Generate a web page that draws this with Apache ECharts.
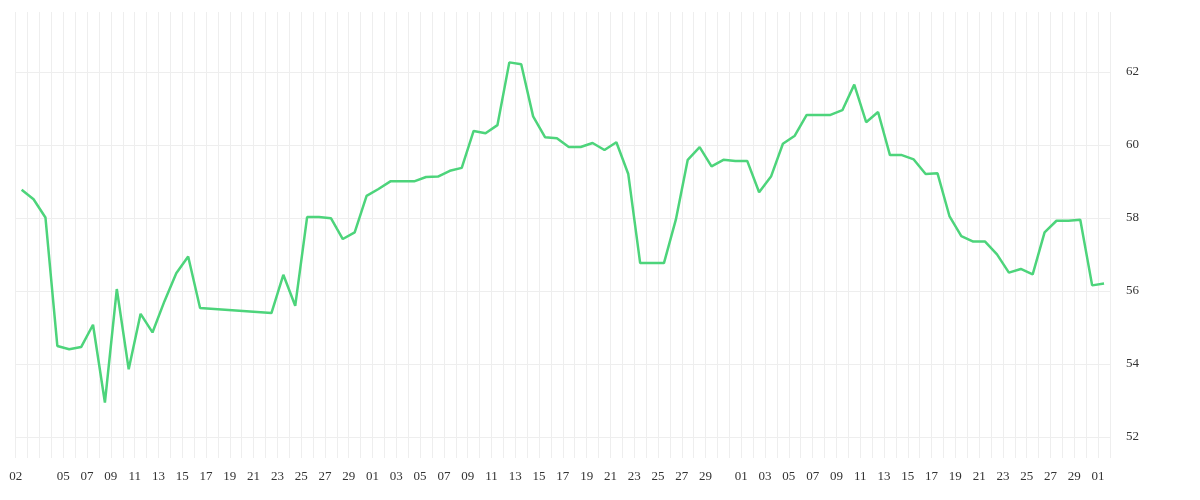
<!DOCTYPE html>
<html><head><meta charset="utf-8">
<script src="https://cdn.jsdelivr.net/npm/echarts@6/dist/echarts.min.js"></script>
<style>html,body{margin:0;padding:0;background:#fff}#c{width:1200px;height:500px}</style>
</head><body><div id="c"></div>
<script>
// one value per day (null = no data)
const values = [
58.77,58.51,58.01,54.49,54.40,54.46,55.07,52.94,56.05,53.85,
55.37,54.86,55.71,56.48,56.94,55.53,null,null,null,null,
null,55.39,56.44,55.59,58.02,58.02,57.99,57.42,57.60,58.60,
58.79,59.00,59.00,59.00,59.12,59.13,59.29,59.37,60.38,60.32,
60.54,62.26,62.21,60.78,60.21,60.18,59.94,59.94,60.05,59.86,
60.07,59.20,56.76,56.76,56.76,57.95,59.59,59.94,59.41,59.59,
59.56,59.56,58.70,59.13,60.03,60.25,60.82,60.82,60.82,60.95,
61.65,60.62,60.90,59.72,59.72,59.60,59.20,59.22,58.05,57.50,
57.35,57.35,57.00,56.50,56.60,56.45,57.60,57.92,57.92,57.95,
56.15,56.20];
// tick labels at day boundaries
const tickLabels = ["02","Apr",""];
for (let k = 3; k <= 29; k++) tickLabels.push(k % 2 === 0 ? String(k + 1).padStart(2, "0") : "");
for (let d = 1; d <= 31; d++) tickLabels.push(d % 2 === 1 && d !== 31 ? String(d).padStart(2, "0") : "");
for (let d = 1; d <= 30; d++) tickLabels.push(d % 2 === 1 ? String(d).padStart(2, "0") : "");
tickLabels.push("01", "");
const yTicks = [52, 54, 56, 58, 60, 62];

const pts = values.map((v, i) => [i + 0.5, v]);
const chart = echarts.init(document.getElementById('c'));
chart.setOption({
  animation: false,
  grid: {left: 15.7, right: 90, top: 12, bottom: 42},
  xAxis: {
    type: 'value', min: 0, max: 92, interval: 1,
    axisLine: {show: false}, axisTick: {show: false},
    splitLine: {show: true, lineStyle: {color: '#eeeeee'}},
    axisLabel: {
      interval: 0, hideOverlap: false, showMinLabel: true, showMaxLabel: true,
      color: '#333', fontFamily: 'Liberation Serif', fontSize: 13, margin: 12,
      formatter: v => tickLabels[Math.round(v)] || ''
    }
  },
  yAxis: {
    type: 'value', position: 'right', min: 51.42, max: 63.64, scale: true,
    axisLine: {show: false},
    axisTick: {show: false, customValues: yTicks},
    splitLine: {show: true, lineStyle: {color: '#eeeeee'}},
    axisLabel: {customValues: yTicks, color: '#333', fontFamily: 'Liberation Serif', fontSize: 13, margin: 16}
  },
  series: [{
    type: 'line', data: pts, connectNulls: true, showSymbol: false,
    lineStyle: {color: '#4dd47b', width: 2.5}, itemStyle: {color: '#4dd47b'}
  }]
});
</script></body></html>
